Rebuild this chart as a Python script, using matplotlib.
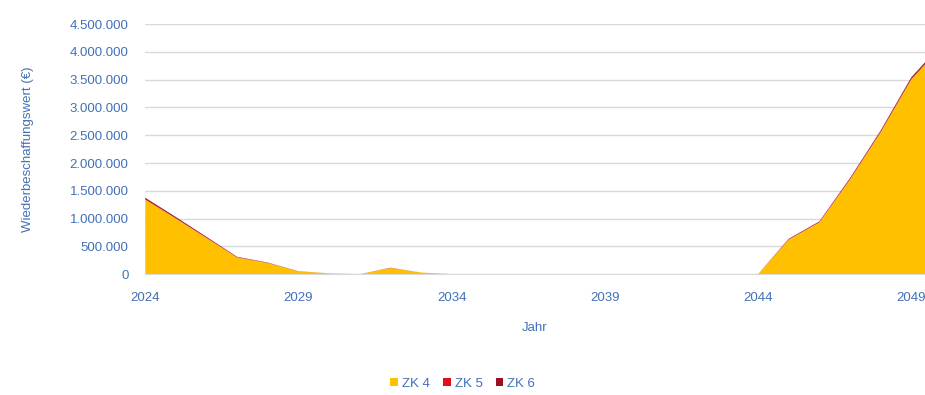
import matplotlib.pyplot as plt
from matplotlib.ticker import FuncFormatter, MultipleLocator

plt.rcParams['font.family'] = ['Liberation Sans', 'DejaVu Sans']

# values (EUR)
years = list(range(2024, 2051))
zk4 = [1340000, 1000000, 650000, 300000, 200000, 50000, 15000, 0, 110000, 30000,
       0, 0, 0, 0, 0, 0, 0, 0, 0, 0,
       0, 620000, 930000, 1700000, 2550000, 3500000, 4100000]
zk5 = [10000, 8000, 6000, 4000, 3000, 1000, 0, 0, 2000, 0,
       0, 0, 0, 0, 0, 0, 0, 0, 0, 0,
       0, 5000, 6000, 8000, 10000, 12000, 15000]
zk6 = [25000, 20000, 15000, 8000, 5000, 2000, 0, 0, 3000, 0,
       0, 0, 0, 0, 0, 0, 0, 0, 0, 0,
       0, 10000, 12000, 18000, 22000, 28000, 30000]
series_names = ['ZK 4', 'ZK 5', 'ZK 6']
colors = ['#FFC000', '#E0101A', '#9B1020']
tick_years = [2024, 2029, 2034, 2039, 2044, 2049]

blue = '#4270B8'

fig = plt.figure(figsize=(9.25, 3.95), dpi=100)
ax = fig.add_axes([0.157, 0.306, 0.843, 0.633])

ax.stackplot(years, zk4, zk5, zk6, colors=colors, labels=series_names, linewidth=0)

ax.set_xlim(2024, 2049.45)
ax.set_ylim(0, 4500000)
ax.set_xticks(tick_years)
ax.yaxis.set_major_locator(MultipleLocator(500000))
ax.yaxis.set_major_formatter(FuncFormatter(lambda v, p: f'{int(v):,}'.replace(',', '.')))

ax.grid(axis='y', color='#D9D9D9', linewidth=1)
ax.set_axisbelow(True)
for s in ['top', 'right', 'left']:
    ax.spines[s].set_visible(False)
ax.spines['bottom'].set_color('#D9D9D9')
ax.tick_params(axis='both', length=0, labelsize=9.5, labelcolor=blue)
ax.tick_params(axis='y', pad=12)
ax.tick_params(axis='x', pad=13)

ax.set_xlabel('Jahr', color=blue, fontsize=9.5, labelpad=13)
ax.set_ylabel('Wiederbeschaffungswert (€)', color=blue, fontsize=9.5, labelpad=26)
ax.yaxis.set_label_coords(-0.142, 0.5)

handles, labels = ax.get_legend_handles_labels()
fig.legend(handles, labels, loc='center', bbox_to_anchor=(0.5, 0.028), ncol=3,
           frameon=False, fontsize=9.5, handlelength=0.6, handleheight=0.6,
           handletextpad=0.3, columnspacing=1.0, labelcolor=blue)

fig.savefig('out.png', dpi=100)
